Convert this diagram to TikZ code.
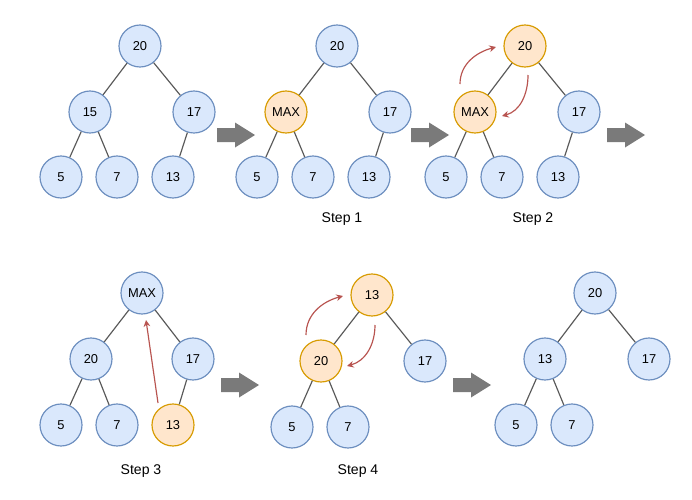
\documentclass[tikz,border=0pt]{standalone}
\usepackage{fontspec}
\setmainfont{Liberation Sans}
\usepackage{tikz}
\usetikzlibrary{calc}
\usetikzlibrary{arrows.meta}

\definecolor{keyfill}{HTML}{DAE8FC}
\definecolor{keyline}{HTML}{6C8EBF}
\definecolor{hotfill}{HTML}{FFE6CC}
\definecolor{hotline}{HTML}{D79B00}
\definecolor{swapred}{HTML}{B85450}
\definecolor{linkgray}{HTML}{595959}
\definecolor{stepgray}{HTML}{7A7A7A}

\begin{document}
\begin{tikzpicture}[x=0.03cm, y=-0.03cm,
        key/.style={circle, draw=keyline, fill=keyfill, line width=1pt, minimum size=1.26cm, inner sep=0pt, font=\fontsize{11}{13}\selectfont},
        hot/.style={key, draw=hotline, fill=hotfill},
        link/.style={draw=linkgray, line width=1pt},
        swap/.style={draw=swapred, line width=1pt, -{Stealth[length=2mm, width=2mm]}},
        caption/.style={font=\fontsize{12}{14}\selectfont}]
            \useasboundingbox (0,0) rectangle (692,500);

            % start
            \node[key] (a) at (140,46) {20};
            \node[key] (a1) at (90,112) {15};
            \node[key] (a2) at (194,112) {17};
            \node[key] (a11) at (61,177) {5};
            \node[key] (a12) at (117,177) {7};
            \node[key] (a21) at (173,177) {13};

            % step 1
            \node[key] (b) at (337,46) {20};
            \node[hot] (b1) at (286,112) {MAX};
            \node[key] (b2) at (390,112) {17};
            \node[key] (b11) at (257,177) {5};
            \node[key] (b12) at (313,177) {7};
            \node[key] (b21) at (369,177) {13};
            \node[caption] (s1) at (342,219) {Step 1};

            % step 2
            \node[hot] (c) at (525,46) {20};
            \node[hot] (c1) at (475,112) {MAX};
            \node[key] (c2) at (579,112) {17};
            \node[key] (c11) at (446,177) {5};
            \node[key] (c12) at (502,177) {7};
            \node[key] (c21) at (558,177) {13};
            \node[caption] (s2) at (533,219) {Step 2};

            % step 3
            \node[key] (d) at (142,293) {MAX};
            \node[key] (d1) at (91,359) {20};
            \node[key] (d2) at (193,359) {17};
            \node[key] (d11) at (61,425) {5};
            \node[key] (d12) at (117,425) {7};
            \node[hot] (d21) at (173,425) {13};
            \node[caption] (s3) at (141,471) {Step 3};

            % step 4
            \node[hot] (e) at (372,295) {13};
            \node[hot] (e1) at (321,361) {20};
            \node[key] (e2) at (425,361) {17};
            \node[key] (e11) at (292,427) {5};
            \node[key] (e12) at (348,427) {7};
            \node[caption] (s4) at (358,471) {Step 4};

            % result
            \node[key] (f) at (595,293) {20};
            \node[key] (f1) at (545,359) {13};
            \node[key] (f2) at (649,359) {17};
            \node[key] (f11) at (516,425) {5};
            \node[key] (f12) at (572,425) {7};

            \foreach \t in {a,b,c,d}
            {
                \draw[link] (\t) -- (\t1);
                \draw[link] (\t) -- (\t2);
                \draw[link] (\t1) -- (\t11);
                \draw[link] (\t1) -- (\t12);
                \draw[link] (\t2) -- (\t21);
            }
            \foreach \t in {e,f}
            {
                \draw[link] (\t) -- (\t1);
                \draw[link] (\t) -- (\t2);
                \draw[link] (\t1) -- (\t11);
                \draw[link] (\t1) -- (\t12);
            }

            % block arrows
            \foreach \x/\y in {217/135, 411/135, 607/135, 221/385, 453/385}
            {
                \fill[stepgray] (\x,\y) ++(0,-7) -- ++(18,0) -- ++(0,-5.5) -- ++(20,12.5)
                    -- ++(-20,12.5) -- ++(0,-5.5) -- ++(-18,0) -- cycle;
            }

            % swaps
            \coordinate (c1a) at ($(c1) + (-15,-28)$);
            \coordinate (ca) at ($(c) + (-29,1)$);
            \coordinate (cb) at ($(c) + (3,29)$);
            \coordinate (c1b) at ($(c1) + (27,4)$);
            \draw[swap] (c1a) to[out=90, in=195] (ca);
            \draw[swap] (cb) to[out=-90, in=15] (c1b);

            \coordinate (da) at ($(d) + (4,27)$);
            \draw[swap] ($(d21) + (-15,-22)$) -- (da);

            \coordinate (e1a) at ($(e1) + (-15,-26)$);
            \coordinate (ea) at ($(e) + (-29,1)$);
            \coordinate (eb) at ($(e) + (3,30)$);
            \coordinate (e1b) at ($(e1) + (26,5)$);
            \draw[swap] (e1a) to[out=90, in=195] (ea);
            \draw[swap] (eb) to[out=-90, in=15] (e1b);
        \end{tikzpicture}
\end{document}
